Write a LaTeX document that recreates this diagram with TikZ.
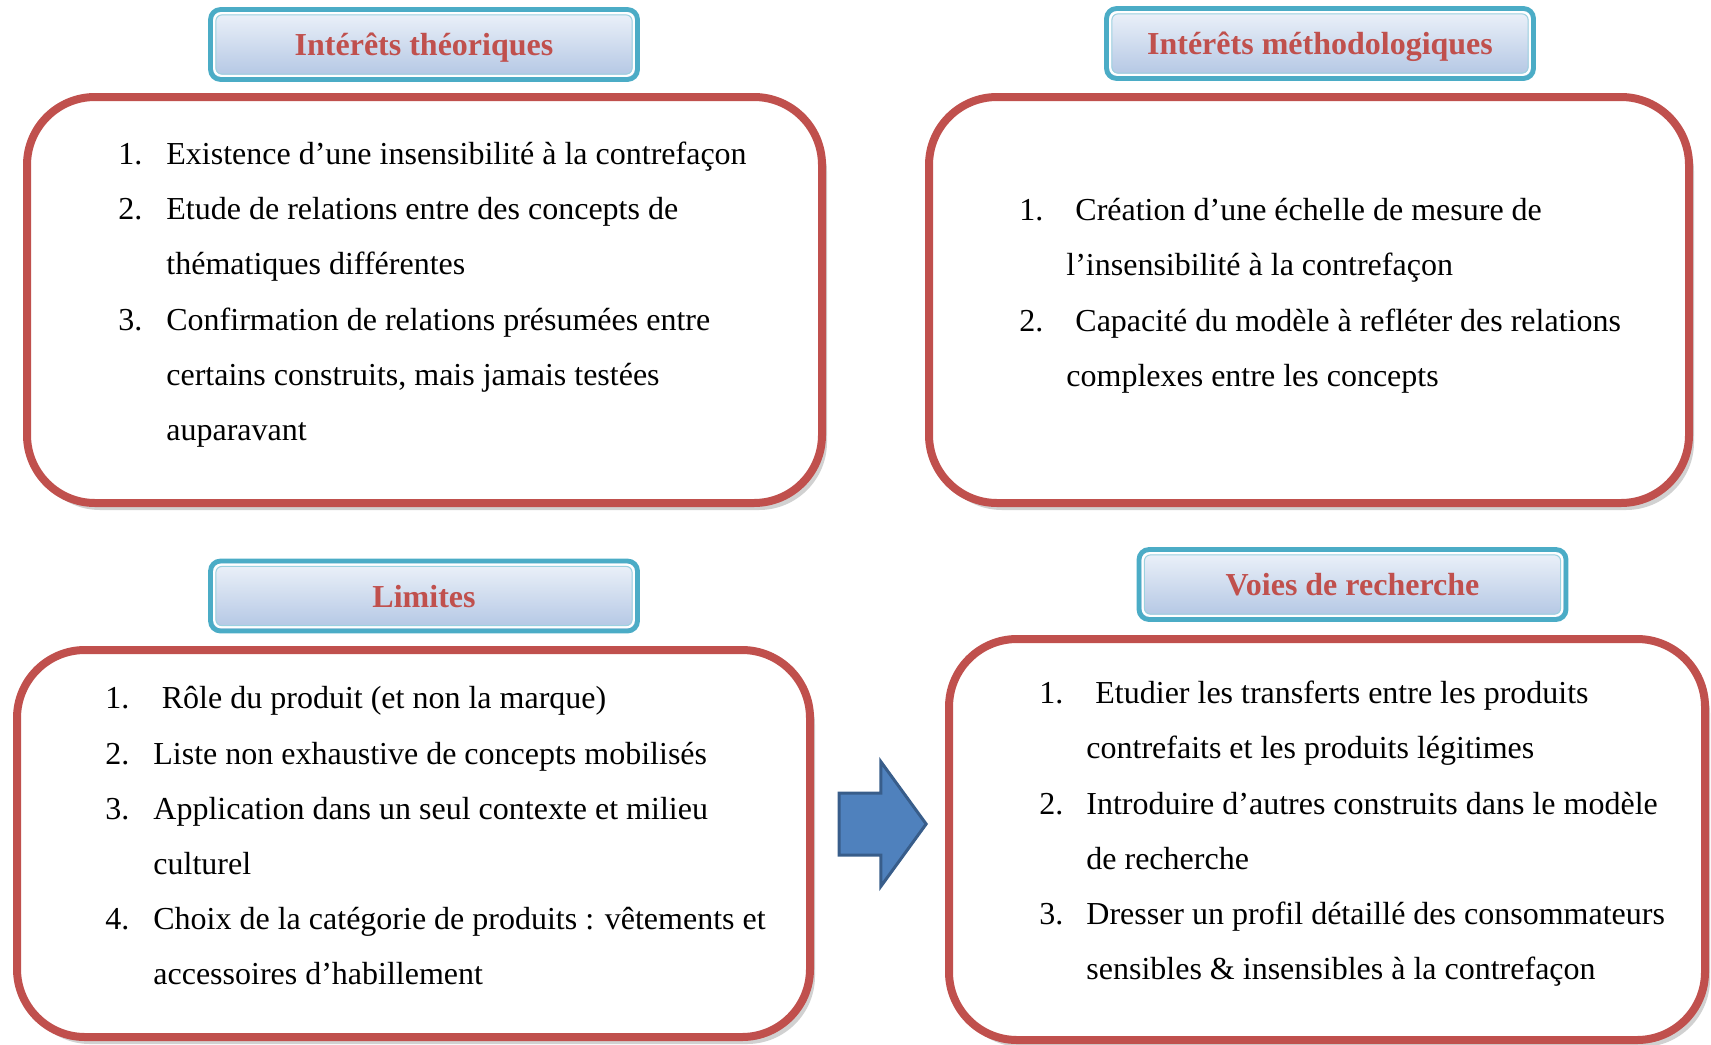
\documentclass[tikz,border=0pt]{standalone}
\usepackage{fontspec}
\setmainfont{Liberation Serif}
\usepackage{xcolor}
\usetikzlibrary{shapes.arrows,shadows}
\definecolor{boxred}{HTML}{C0504D}
\definecolor{hdrteal}{HTML}{4BACC6}
\definecolor{hdrtop}{HTML}{EEF3FA}
\definecolor{hdrbot}{HTML}{B1C5E3}
\definecolor{arrfill}{HTML}{4F81BD}
\definecolor{arrdraw}{HTML}{385D8A}

\begin{document}
\begin{tikzpicture}[x=0.5pt, y=-0.5pt,
  hdr/.style={draw=hdrteal, line width=2.4pt, rounded corners=5pt, top color=hdrtop, bottom color=hdrbot,
    minimum width=213.5pt, minimum height=35pt, inner sep=0pt, text=boxred,
    text height=14.5pt, text depth=3.5pt,
    font=\fontsize{16}{19}\selectfont\bfseries,
    path picture={
      \draw[white, line width=1.2pt, rounded corners=3.5pt]
        ([shift={(1.9pt,-1.9pt)}]path picture bounding box.north west) rectangle
        ([shift={(-1.9pt,1.9pt)}]path picture bounding box.south east);
      \draw[hdrteal!55, line width=0.5pt, rounded corners=3pt]
        ([shift={(2.7pt,-2.7pt)}]path picture bounding box.north west) rectangle
        ([shift={(-2.7pt,2.7pt)}]path picture bounding box.south east);}},
  bigbox/.style={draw=boxred, line width=4pt, rounded corners=34pt, fill=white,
    drop shadow={shadow xshift=2.5pt, shadow yshift=-3.5pt, fill=black!30, opacity=0.6}},
  % base = baseline of the last line
  itm/.style={anchor=base west, inner sep=0pt, align=left, font=\fontsize{16}{27.7}\selectfont},
  num/.style={itm}
]
\useasboundingbox (0,0) rectangle (1711,1044);

% cadres
\node[bigbox, minimum width=397.5pt, minimum height=203pt] (theo) at (424.5,300) {};
\node[bigbox, minimum width=380pt, minimum height=203pt] (meth) at (1309,300) {};
\node[bigbox, minimum width=396.5pt, minimum height=193.5pt] (lim) at (413.5,843.5) {};
\node[bigbox, minimum width=378pt, minimum height=200.5pt] (voies) at (1327,839.5) {};

% titres
\node[hdr] (theoT) at (424,44.5) {Intérêts théoriques};
\node[hdr] (methT) at (1320,43.5) {Intérêts méthodologiques};
\node[hdr] (limT) at (424,596) {Limites};
\node[hdr] (voiesT) at (1352.5,584.5) {Voies de recherche};

% interets theoriques
\node[num] (th1n) at (118,164) {1.};
\node[itm] (th1) at (166,164) {Existence d’une insensibilité à la contrefaçon};
\node[num] (th2n) at (118,219.5) {2.};
\node[itm] (th2) at (166,274.9) {Etude de relations entre des concepts de\\thématiques différentes};
\node[num] (th3n) at (118,330) {3.};
\node[itm] (th3) at (166,440.8) {Confirmation de relations présumées entre\\certains construits, mais jamais testées\\auparavant};

% interets methodologiques
\node[num] (me1n) at (1019,220.5) {1.};
\node[itm] (me1) at (1066,275.9) {\hspace*{4.5pt}Création d’une échelle de mesure de\\l’insensibilité à la contrefaçon};
\node[num] (me2n) at (1019,331) {2.};
\node[itm] (me2) at (1066,386.4) {\hspace*{4.5pt}Capacité du modèle à refléter des relations\\complexes entre les concepts};

% limites
\node[num] (li1n) at (105,708.5) {1.};
\node[itm] (li1) at (161.5,708.5) {Rôle du produit (et non la marque)};
\node[num] (li2n) at (105,764) {2.};
\node[itm] (li2) at (153,764) {Liste non exhaustive de concepts mobilisés};
\node[num] (li3n) at (105,819) {3.};
\node[itm] (li3) at (153,874.4) {Application dans un seul contexte et milieu\\culturel};
\node[num] (li4n) at (105,929.5) {4.};
\node[itm] (li4) at (153,984.9) {Choix de la catégorie de produits : vêtements et\\accessoires d’habillement};

% voies de recherche
\node[num] (vo1n) at (1039,703.5) {1.};
\node[itm] (vo1) at (1086,758.9) {\hspace*{4.5pt}Etudier les transferts entre les produits\\contrefaits et les produits légitimes};
\node[num] (vo2n) at (1039,814.5) {2.};
\node[itm] (vo2) at (1086,869.9) {Introduire d’autres construits dans le modèle\\de recherche};
\node[num] (vo3n) at (1039,924.5) {3.};
\node[itm] (vo3) at (1086,979.9) {Dresser un profil détaillé des consommateurs\\sensibles \& insensibles à la contrefaçon};

% fleche
\node[single arrow, draw=arrdraw, fill=arrfill, line width=1.5pt, inner xsep=0pt, inner ysep=14.75pt,
  minimum height=43.5pt, single arrow head extend=15.75pt,
  single arrow tip angle=108, single arrow head indent=0pt, anchor=tip] (suite) at (928,824) {};
\end{tikzpicture}
\end{document}
